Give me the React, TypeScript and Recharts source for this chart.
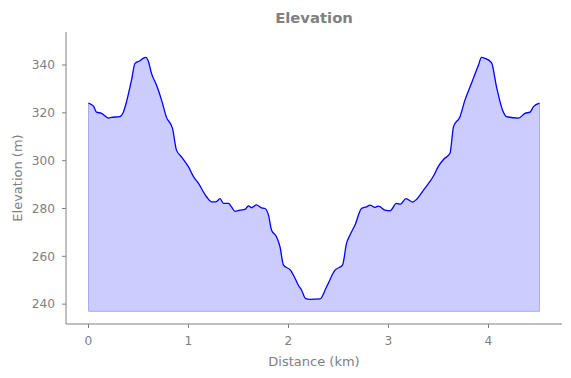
import { ComposedChart, Area, Line, XAxis, YAxis, ReferenceLine, Label } from 'recharts'

// distance along the route (km) and elevation (m)
const DIST = [
  0, 0.05, 0.08, 0.13, 0.2, 0.23, 0.31, 0.35, 0.38, 0.43, 0.465, 0.515, 0.55, 0.575, 0.6, 0.63, 0.68, 0.73, 0.78, 0.84,
  0.88, 0.93, 1.0, 1.05, 1.1, 1.18, 1.23, 1.275, 1.315, 1.35, 1.4, 1.43, 1.465, 1.515, 1.565, 1.6, 1.63, 1.68, 1.73,
  1.765, 1.8, 1.83, 1.88, 1.915, 1.95, 2.02, 2.05, 2.1, 2.13, 2.17, 2.215, 2.315, 2.38, 2.465, 2.54, 2.58, 2.615, 2.665,
  2.73, 2.78, 2.815, 2.865, 2.9, 2.965, 3.015, 3.08, 3.12, 3.175, 3.24, 3.28, 3.35, 3.45, 3.5, 3.55, 3.615, 3.65, 3.715,
  3.765, 3.83, 3.9, 3.93, 3.965, 4.03, 4.08, 4.14, 4.18, 4.3, 4.365, 4.415, 4.45, 4.51,
]
const ELEV = [
  324.1, 322.8, 320.3, 319.8, 317.8, 318.1, 318.4, 320.5, 324.6, 333.7, 340.7, 341.8, 342.9, 343.2, 341.4, 336.5, 331.6,
  325.4, 318.1, 313.5, 304.4, 301.6, 297.4, 293.3, 290.5, 284.9, 282.8, 282.8, 284.1, 282.1, 282.1, 280.7, 278.8, 279.3,
  279.6, 281.1, 280.3, 281.5, 280.3, 280.0, 277.2, 271.0, 268.2, 264.0, 256.3, 254.2, 252.1, 247.8, 245.9, 242.4, 242.0,
  242.2, 247.2, 254.2, 256.3, 265.4, 268.9, 273.1, 280.0, 280.7, 281.4, 280.5, 281.0, 279.3, 279.0, 282.1, 281.8, 284.1,
  282.7, 283.8, 287.7, 293.6, 297.7, 300.5, 303.1, 314.2, 318.4, 325.4, 332.4, 340.0, 343.2, 342.8, 341.0, 330.9, 321.2,
  318.4, 317.8, 319.8, 320.3, 322.6, 324.1,
]
const BASE = 237
const X_TICKS = [0, 1, 2, 3, 4]
const Y_TICKS = [240, 260, 280, 300, 320, 340]

const data = DIST.map((d, i) => ({ dist: d, elev: ELEV[i] }))

const GRAY = '#808080'
const FONT = '"DejaVu Sans", sans-serif'
const EDGE = '#aaaaff'

export default function App() {
  const first = data[0]
  const last = data[data.length - 1]
  return (
    <div style={{ position: 'fixed', left: 0, top: 0, width: 571, height: 378, background: '#fff', fontFamily: FONT }}>
      <div
        style={{
          position: 'absolute', left: 214, width: 200, top: 8, textAlign: 'center',
          fontSize: 14.8, fontWeight: 'bold', color: GRAY, lineHeight: '20px',
        }}
      >
        Elevation
      </div>
      <ComposedChart width={571} height={378} data={data} margin={{ top: 32, right: 9, left: 0, bottom: 0 }}>
        <XAxis
          dataKey="dist"
          type="number"
          domain={[-0.225, 4.735]}
          ticks={X_TICKS}
          allowDataOverflow
          height={54}
          stroke={GRAY}
          tickSize={4}
          tickMargin={8}
          tick={{ fill: GRAY, fontSize: 12.2, fontFamily: FONT }}
        >
          <Label
            value="Distance (km)"
            position="insideBottom"
            offset={12}
            style={{ fill: GRAY, fontSize: 13, fontFamily: FONT }}
          />
        </XAxis>
        <YAxis
          type="number"
          domain={[231.7, 353.8]}
          ticks={Y_TICKS}
          allowDataOverflow
          width={66}
          stroke={GRAY}
          tickSize={4}
          tickMargin={7}
          tick={{ fill: GRAY, fontSize: 12.2, fontFamily: FONT }}
        >
          <Label
            content={(props: any) => {
              const vb = props.viewBox || { x: 0, y: 32, width: 66, height: 292 }
              const cx = 17
              const cy = vb.y + vb.height / 2
              return (
                <text
                  x={cx}
                  y={cy}
                  transform={`rotate(-90 ${cx} ${cy})`}
                  textAnchor="middle"
                  dominantBaseline="central"
                  fill={GRAY}
                  fontSize={13}
                  fontFamily={FONT}
                >
                  Elevation (m)
                </text>
              )
            }}
          />
        </YAxis>
        <Area
          dataKey="elev"
          type="monotone"
          baseValue={BASE}
          fill="#0000ff"
          fillOpacity={0.2}
          stroke="none"
          isAnimationActive={false}
        />
        <ReferenceLine segment={[{ x: first.dist, y: BASE }, { x: last.dist, y: BASE }]} stroke={EDGE} />
        <ReferenceLine segment={[{ x: first.dist, y: BASE }, { x: first.dist, y: first.elev }]} stroke={EDGE} />
        <ReferenceLine segment={[{ x: last.dist, y: BASE }, { x: last.dist, y: last.elev }]} stroke={EDGE} />
        <Line
          dataKey="elev"
          type="monotone"
          stroke="#0000ff"
          strokeWidth={1.3}
          dot={false}
          activeDot={false}
          isAnimationActive={false}
        />
      </ComposedChart>
    </div>
  )
}
